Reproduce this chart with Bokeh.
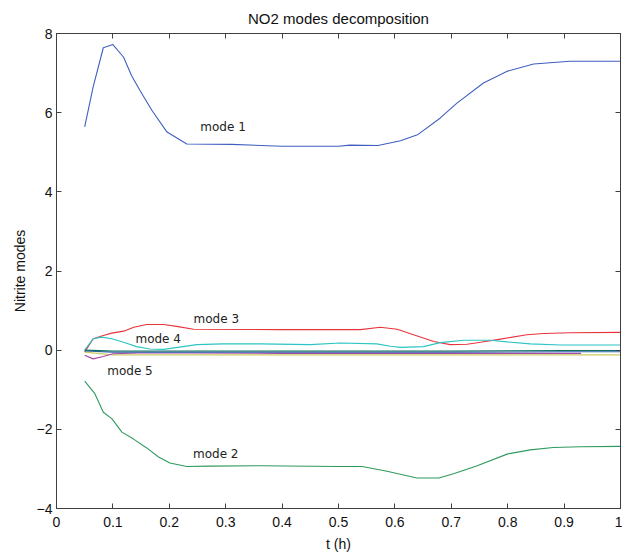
from bokeh.plotting import figure
from bokeh.models import LinearAxis, FixedTicker, CustomJSTickFormatter, Range1d, Label
from bokeh.embed import file_html
from bokeh.resources import INLINE

# ---- data ----
t1 = [0.05, 0.065, 0.083, 0.1, 0.119, 0.133, 0.148, 0.169, 0.196, 0.231, 0.31, 0.4, 0.5, 0.52, 0.57, 0.61, 0.64, 0.68, 0.71, 0.757, 0.8, 0.846, 0.91, 1.0]
mode1 = [5.64, 6.65, 7.64, 7.72, 7.40, 6.94, 6.56, 6.06, 5.51, 5.21, 5.2, 5.15, 5.15, 5.18, 5.17, 5.29, 5.44, 5.86, 6.24, 6.75, 7.05, 7.23, 7.3, 7.3]

t2 = [0.05, 0.068, 0.083, 0.098, 0.116, 0.136, 0.16, 0.181, 0.201, 0.231, 0.27, 0.361, 0.5, 0.542, 0.586, 0.639, 0.678, 0.704, 0.746, 0.8, 0.84, 0.881, 0.929, 1.0]
mode2 = [-0.78, -1.10, -1.57, -1.73, -2.07, -2.24, -2.47, -2.70, -2.85, -2.94, -2.93, -2.92, -2.94, -2.94, -3.06, -3.23, -3.23, -3.12, -2.92, -2.62, -2.52, -2.46, -2.44, -2.43]

t3 = [0.05, 0.065, 0.083, 0.098, 0.119, 0.137, 0.16, 0.19, 0.213, 0.243, 0.4, 0.539, 0.574, 0.604, 0.633, 0.669, 0.698, 0.728, 0.752, 0.787, 0.834, 0.864, 0.911, 1.0]
mode3 = [-0.05, 0.29, 0.37, 0.43, 0.48, 0.58, 0.65, 0.65, 0.6, 0.53, 0.52, 0.52, 0.58, 0.53, 0.39, 0.22, 0.14, 0.15, 0.2, 0.28, 0.39, 0.42, 0.44, 0.45]

t4 = [0.05, 0.065, 0.08, 0.098, 0.119, 0.142, 0.166, 0.19, 0.249, 0.295, 0.361, 0.45, 0.503, 0.568, 0.592, 0.61, 0.651, 0.68, 0.722, 0.769, 0.799, 0.84, 0.894, 1.0]
mode4 = [0.0, 0.29, 0.33, 0.29, 0.2, 0.09, 0.03, 0.02, 0.14, 0.16, 0.16, 0.14, 0.18, 0.16, 0.1, 0.07, 0.09, 0.19, 0.25, 0.25, 0.21, 0.16, 0.13, 0.13]

t5 = [0.05, 0.065, 0.083, 0.1, 0.146, 0.231, 0.4, 0.6, 0.8, 0.93]
mode5 = [-0.13, -0.22, -0.16, -0.09, -0.07, -0.07, -0.08, -0.08, -0.08, -0.08]

t6 = [0.05, 0.1, 0.3, 0.5, 0.7, 0.9, 1.0]
mode6 = [0.0, -0.02, -0.02, -0.02, -0.02, -0.01, -0.01]
mode7 = [-0.02, -0.05, -0.05, -0.05, -0.05, -0.04, -0.04]
mode8 = [-0.05, -0.12, -0.12, -0.12, -0.12, -0.12, -0.12]

x_ticks = [0, 0.1, 0.2, 0.3, 0.4, 0.5, 0.6, 0.7, 0.8, 0.9, 1.0]
y_ticks = [-4, -2, 0, 2, 4, 6, 8]

mode_labels = ["mode 1", "mode 2", "mode 3", "mode 4", "mode 5"]
label_x = [0.255, 0.242, 0.243, 0.14, 0.09]
label_y = [5.65, -2.62, 0.8, 0.27, -0.52]

FONT = "Liberation Sans"
AX = "#404040"

p = figure(width=622, height=557, output_backend="svg", toolbar_location=None,
           x_range=Range1d(0, 1), y_range=Range1d(-4, 8),
           min_border_left=56, min_border_right=2, min_border_top=33, min_border_bottom=49,
           background_fill_color="white", border_fill_color="white")
p.grid.visible = False
p.outline_line_color = AX
p.outline_line_width = 1

p.title.text = "NO2 modes decomposition"
p.title.align = "center"
p.title.text_font = FONT
p.title.text_font_size = "15px"
p.title.text_font_style = "normal"
p.title.text_color = "#111111"
p.title.offset = 0
p.title.standoff = 13

fmt = CustomJSTickFormatter(code="return String(Math.round(tick*10)/10);")
for ax in p.xaxis:
    ax.ticker = FixedTicker(ticks=x_ticks)
    ax.formatter = fmt
    ax.axis_label = "t (h)"
    ax.major_label_standoff = 8
    ax.axis_label_standoff = 6
for ax in p.yaxis:
    ax.ticker = FixedTicker(ticks=y_ticks)
    ax.axis_label = "Nitrite modes"
    ax.major_label_standoff = 4
    ax.axis_label_standoff = 6
for ax in p.xaxis + p.yaxis:
    ax.major_tick_in = 5
    ax.major_tick_out = 0
    ax.minor_tick_line_color = None
    ax.axis_line_color = AX
    ax.major_tick_line_color = AX
    ax.major_label_text_font = FONT
    ax.major_label_text_font_size = "14px"
    ax.major_label_text_color = "#111111"
    ax.axis_label_text_font = FONT
    ax.axis_label_text_font_size = "14px"
    ax.axis_label_text_font_style = "normal"
    ax.axis_label_text_color = "#111111"

# box ticks on top and right (no labels)
blank = CustomJSTickFormatter(code="return '';")
top = LinearAxis(ticker=FixedTicker(ticks=x_ticks), formatter=blank, major_label_text_font_size="1px",
                 major_tick_in=5, major_tick_out=0, minor_tick_line_color=None,
                 axis_line_color=AX, major_tick_line_color=AX, major_label_standoff=0)
right = LinearAxis(ticker=FixedTicker(ticks=y_ticks), formatter=blank, major_label_text_font_size="1px",
                   major_tick_in=5, major_tick_out=0, minor_tick_line_color=None,
                   axis_line_color=AX, major_tick_line_color=AX, major_label_standoff=0)
p.add_layout(top, "above")
p.add_layout(right, "right")

lw = 1.1
p.line(t1, mode1, line_color="#3f5fc0", line_width=lw)
p.line(t2, mode2, line_color="#2f9a5e", line_width=lw)
p.line(t3, mode3, line_color="#e8343c", line_width=lw)
p.line(t4, mode4, line_color="#2cc4c4", line_width=lw)
p.line(t6, mode8, line_color="#cccc66", line_width=lw)
p.line(t5, mode5, line_color="#a848a8", line_width=lw)
p.line(t6, mode7, line_color="#2a62a8", line_width=lw)
p.line(t6, mode6, line_color="#0e6e5a", line_width=lw)

for txt, lx, ly in zip(mode_labels, label_x, label_y):
    p.add_layout(Label(x=lx, y=ly, text=txt, text_font="DejaVu Sans", text_font_size="12px",
                       text_color="#222222", text_baseline="middle", text_align="left"))

open("out.html", "w").write(file_html(p, INLINE))
